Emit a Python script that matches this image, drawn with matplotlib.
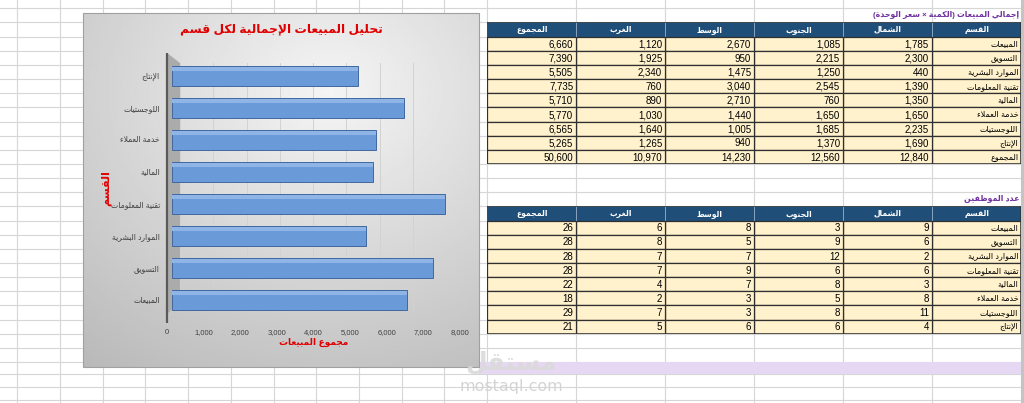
import re
import numpy as np
import matplotlib
matplotlib.use("Agg")
import matplotlib.pyplot as plt
from matplotlib.patches import Rectangle, Polygon

plt.rcParams['font.family'] = ['Liberation Sans', 'DejaVu Sans']

# ------------------------------------------------------------------ data
departments = ["المبيعات", "التسويق", "الموارد البشرية", "تقنية المعلومات",
               "المالية", "خدمة العملاء", "اللوجستيات", "الإنتاج"]
sales_north = [1785, 2300, 440, 1390, 1350, 1650, 2235, 1690]
sales_south = [1085, 2215, 1250, 2545, 760, 1650, 1685, 1370]
sales_center = [2670, 950, 1475, 3040, 2710, 1440, 1005, 940]
sales_west = [1120, 1925, 2340, 760, 890, 1030, 1640, 1265]
sales_total = [6660, 7390, 5505, 7735, 5710, 5770, 6565, 5265]
grand_label = "المجموع"
grand_row = [12840, 12560, 14230, 10970, 50600]   # north, south, center, west, total

emp_north = [9, 6, 2, 6, 3, 8, 11, 4]
emp_south = [3, 9, 12, 6, 8, 5, 8, 6]
emp_center = [8, 5, 7, 9, 7, 3, 3, 6]
emp_west = [6, 8, 7, 7, 4, 2, 7, 5]
emp_total = [26, 28, 28, 28, 22, 18, 29, 21]

table_headers = ["القسم", "الشمال", "الجنوب", "الوسط", "الغرب", "المجموع"]
x_ticks = [0, 1000, 2000, 3000, 4000, 5000, 6000, 7000, 8000]

chart_title = "تحليل المبيعات الإجمالية لكل قسم"
x_label = "مجموع المبيعات"
y_label = "القسم"
table1_title = "إجمالي المبيعات (الكمية × سعر الوحدة)"
table2_title = "عدد الموظفين"

# ------------------------------------------------------------------ arabic shaping
_SPEC = [('\u0621', 0xFE80, 'N'), ('\u0622', 0xFE81, 'R'), ('\u0623', 0xFE83, 'R'),
         ('\u0624', 0xFE85, 'R'), ('\u0625', 0xFE87, 'R'), ('\u0626', 0xFE89, 'D'),
         ('\u0627', 0xFE8D, 'R'), ('\u0628', 0xFE8F, 'D'), ('\u0629', 0xFE93, 'R'),
         ('\u062A', 0xFE95, 'D'), ('\u062B', 0xFE99, 'D'), ('\u062C', 0xFE9D, 'D'),
         ('\u062D', 0xFEA1, 'D'), ('\u062E', 0xFEA5, 'D'), ('\u062F', 0xFEA9, 'R'),
         ('\u0630', 0xFEAB, 'R'), ('\u0631', 0xFEAD, 'R'), ('\u0632', 0xFEAF, 'R'),
         ('\u0633', 0xFEB1, 'D'), ('\u0634', 0xFEB5, 'D'), ('\u0635', 0xFEB9, 'D'),
         ('\u0636', 0xFEBD, 'D'), ('\u0637', 0xFEC1, 'D'), ('\u0638', 0xFEC5, 'D'),
         ('\u0639', 0xFEC9, 'D'), ('\u063A', 0xFECD, 'D'), ('\u0641', 0xFED1, 'D'),
         ('\u0642', 0xFED5, 'D'), ('\u0643', 0xFED9, 'D'), ('\u0644', 0xFEDD, 'D'),
         ('\u0645', 0xFEE1, 'D'), ('\u0646', 0xFEE5, 'D'), ('\u0647', 0xFEE9, 'D'),
         ('\u0648', 0xFEED, 'R'), ('\u0649', 0xFEEF, 'R'), ('\u064A', 0xFEF1, 'D')]
_BASE = {c: b for c, b, t in _SPEC}
_TYPE = {c: t for c, b, t in _SPEC}
_LAMALEF = {'\u0622': 0xFEF5, '\u0623': 0xFEF7, '\u0625': 0xFEF9, '\u0627': 0xFEFB}


def _shape(s):
    res, prev_joins, i, n = [], False, 0, len(s)
    while i < n:
        c = s[i]
        t = _TYPE.get(c)
        if t is None:
            res.append(c)
            prev_joins = False
            i += 1
            continue
        if c == '\u0644' and i + 1 < n and s[i + 1] in _LAMALEF:
            res.append(chr(_LAMALEF[s[i + 1]] + (1 if prev_joins else 0)))
            prev_joins = False
            i += 2
            continue
        nxt = s[i + 1] if i + 1 < n else None
        can_next = t == 'D' and _TYPE.get(nxt) in ('D', 'R')
        if t == 'N':
            res.append(chr(_BASE[c]))
            prev_joins = False
        else:
            if prev_joins and can_next:
                f = 3
            elif prev_joins:
                f = 1
            elif can_next:
                f = 2
            else:
                f = 0
            res.append(chr(_BASE[c] + f))
            prev_joins = can_next
        i += 1
    return ''.join(res)


def ar(s):
    toks = re.findall(r'[A-Za-z0-9.,]+|.', _shape(s), flags=re.S)
    toks.reverse()
    mirror = {'(': ')', ')': '('}
    return ''.join(mirror.get(t, t) for t in toks)


# ------------------------------------------------------------------ figure
W, H = 1024, 403
fig = plt.figure(figsize=(W / 100, H / 100), dpi=100)
fig.patch.set_facecolor('white')


def px_axes(x0, y0, x1, y1, z):
    a = fig.add_axes([x0 / W, 1 - y1 / H, (x1 - x0) / W, (y1 - y0) / H])
    a.set_zorder(z)
    a.patch.set_alpha(0)
    return a


ax_bg = px_axes(0, 0, W, H, 0)
ax_bg.set_xlim(0, W)
ax_bg.set_ylim(H, 0)
ax_bg.axis('off')

# spreadsheet grid
grid_c = '#D6D6D6'
col_lines = [17.3 + 42.7 * k for k in range(11)] + [487.3 + 88.95 * k for k in range(7)]
row_lines = [8.3 + 14.15 * k for k in range(26)] + [373.5, 386.7, 399.5]
for x in col_lines:
    ax_bg.axvline(x, color=grid_c, lw=0.8, zorder=1)
for y in row_lines:
    ax_bg.axhline(y, color=grid_c, lw=0.8, zorder=1)
ax_bg.add_patch(Rectangle((1021, 0), 3, H, facecolor='#C4C4C4', edgecolor='none', zorder=1.5))

# lavender band
ax_bg.add_patch(Rectangle((479, 361.5), 1021 - 479, 12, facecolor='#E6D8F2',
                          edgecolor='none', zorder=1.2))

# chart area gradient
cx0, cy0, cx1, cy1 = 82.7, 13.3, 479, 366.7
gx = np.linspace(0, 1, 300)
gy = np.linspace(0, 1, 260)
GX, GY = np.meshgrid(gx, gy)
dist = np.sqrt(((GX - 0.62) / 1.0) ** 2 + ((GY - 0.22) / 0.95) ** 2)
grad = np.clip(0.96 - 0.23 * dist, 0, 1)
ax_bg.imshow(grad, extent=(cx0, cx1, cy1, cy0), cmap='gray', vmin=0, vmax=1,
             aspect='auto', zorder=2, interpolation='bilinear')
ax_bg.add_patch(Rectangle((cx0, cy0), cx1 - cx0, cy1 - cy0, facecolor='none',
                          edgecolor='#A0A0A0', lw=0.8, zorder=2.1))
# side wall and axis line
ax_bg.add_patch(Polygon([(167, 53), (180, 63), (180, 302), (167, 314)], closed=True,
                        facecolor='#ABABAB', edgecolor='none', zorder=2.2))
ax_bg.plot([167, 167], [53, 323], color='#5A5A5A', lw=1.6, zorder=2.3, solid_capstyle='butt')

# title
ax_bg.text(281, 29.5, ar(chart_title), ha='center', va='center', fontsize=8.8,
           fontweight='bold', color='#E00000', zorder=5)

# back wall gridlines
ax_back = px_axes(180, 63, 446, 312, 3)
ax_back.set_xlim(0, 8000)
ax_back.set_xticks(x_ticks)
ax_back.grid(axis='x', color='#D2D2D2', lw=0.7)
ax_back.tick_params(length=0, labelbottom=False, labelleft=False)
ax_back.set_yticks([])
for s in ax_back.spines.values():
    s.set_visible(False)

# bars
ax_bars = px_axes(171.7, 60, 454.3, 316, 4)
ypos = np.arange(len(departments))
ax_bars.barh(ypos, sales_total, height=0.64, color='#6A9AD8', edgecolor='#41689F', lw=0.7)
ax_bars.barh(ypos + 0.22, sales_total, height=0.12, color='#8EB5E6', edgecolor='none')
ax_bars.set_xlim(0, 8000)
ax_bars.set_ylim(-0.5, len(departments) - 0.5)
ax_bars.set_yticks(ypos)
ax_bars.set_yticklabels([ar(d) for d in departments], fontsize=5.5, color='#404040')
ax_bars.tick_params(axis='y', length=0, pad=8.5)
ax_bars.set_xticks([])
for s in ax_bars.spines.values():
    s.set_visible(False)
ax_bars.set_ylabel(ar(y_label), fontsize=8, fontweight='bold', color='#E00000')
ax_bars.yaxis.set_label_coords(-0.215, 0.5)

# x tick labels
ax_lab = px_axes(167, 300, 460, 323, 4)
ax_lab.set_xlim(0, 8000)
ax_lab.set_xticks(x_ticks)
ax_lab.set_xticklabels([f"{v:,}" for v in x_ticks], fontsize=5.5, color='#404040')
ax_lab.tick_params(axis='x', length=0, pad=4.5)
ax_lab.set_yticks([])
for s in ax_lab.spines.values():
    s.set_visible(False)
ax_lab.set_xlabel(ar(x_label), fontsize=6.5, fontweight='bold', color='#E00000', labelpad=1.5)


# tables
def draw_table(y0, body_rows, title, ty):
    n = len(body_rows)
    ta = px_axes(487.3, y0, 1021, y0 + 14.15 * (n + 1), 6)
    ta.set_xlim(0, 6)
    ta.set_ylim(n + 1, 0)
    ta.axis('off')
    for i, h in enumerate(table_headers):
        c = 5 - i
        ta.add_patch(Rectangle((c, 0), 1, 1, facecolor='#1F4E79', edgecolor='#8FA9C4', lw=0.6))
        ta.text(c + 0.5, 0.52, ar(h), ha='center', va='center', color='white',
                fontsize=5.5, fontweight='bold')
    for r, row in enumerate(body_rows):
        for i, val in enumerate(row):
            c = 5 - i
            ta.add_patch(Rectangle((c, r + 1), 1, 1, facecolor='#FFF2CC',
                                   edgecolor='#303030', lw=0.9))
            if i == 0:
                ta.text(c + 0.97, r + 1.55, ar(val), ha='right', va='center',
                        fontsize=5.8, color='black')
            else:
                ta.text(c + 0.965, r + 1.55, f"{val:,}", ha='right', va='center',
                        fontsize=7, color='black')
    ta.add_patch(Rectangle((0, 0), 6, n + 1, facecolor='none', edgecolor='#303030', lw=1.1))
    ax_bg.text(1019, ty, ar(title), ha='right', va='center', fontsize=5.6,
               fontweight='bold', color='#7030A0', zorder=5)


rows1 = [[d, sales_north[k], sales_south[k], sales_center[k], sales_west[k], sales_total[k]]
         for k, d in enumerate(departments)]
rows1.append([grand_label] + grand_row)
draw_table(22.45, rows1, table1_title, 15.4)

rows2 = [[d, emp_north[k], emp_south[k], emp_center[k], emp_west[k], emp_total[k]]
         for k, d in enumerate(departments)]
draw_table(206.4, rows2, table2_title, 199.2)

# watermark
ax_bg.text(511, 362, ar("مستقل"), ha='center', va='center', fontsize=18,
           fontweight='bold', color='#DADADA', alpha=0.9, zorder=8)
ax_bg.text(511, 386, "mostaql.com", ha='center', va='center', fontsize=11.5,
           color='#D4D4D4', family='DejaVu Sans', zorder=8)

fig.savefig('out.png', dpi=100)
